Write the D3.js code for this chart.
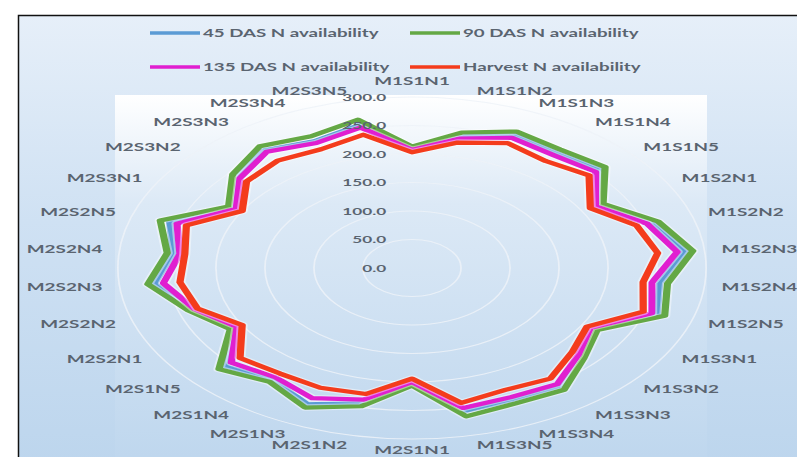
<!DOCTYPE html>
<html>
<head>
<meta charset="utf-8">
<script src="https://cdn.jsdelivr.net/npm/d3@7/dist/d3.min.js"></script>
<style>
  html, body { margin: 0; padding: 0; background: #ffffff; }
  svg { display: block; }
  text { font-family: Lato, "Open Sans", sans-serif; font-weight: 700; fill: #5a6470; }
</style>
</head>
<body>
<svg id="chart" width="797" height="457"></svg>
<script>
// Treatment combinations around the radar
const categories = [
  "M1S1N1","M1S1N2","M1S1N3","M1S1N4","M1S1N5",
  "M1S2N1","M1S2N2","M1S2N3","M1S2N4","M1S2N5",
  "M1S3N1","M1S3N2","M1S3N3","M1S3N4","M1S3N5",
  "M2S1N1","M2S1N2","M2S1N3","M2S1N4","M2S1N5",
  "M2S2N1","M2S2N2","M2S2N3","M2S2N4","M2S2N5",
  "M2S3N1","M2S3N2","M2S3N3","M2S3N4","M2S3N5"
];

// N availability (kg/ha) at each stage
const das45 = [209,236,256,250,258,219,258,280,254,263,213,232,256,253,257,203,242,262,242,257,209,236,264,245,260,212,241,256,244,257];
const das90 = [213,243,262,257,265,225,264,288,262,271,218,236,264,260,266,206,248,268,247,265,214,240,271,251,270,216,246,264,253,266];
const das135 = [207,232,250,245,252,216,252,272,246,257,210,228,252,248,251,200,236,250,237,248,206,233,255,238,252,207,236,252,240,252];
const harvest = [203,225,240,232,243,210,241,252,237,248,206,220,240,234,242,194,226,230,229,236,200,230,238,233,242,200,227,233,228,239];

const radialTicks = [0, 50, 100, 150, 200, 250, 300];

const seriesNames = ["45 DAS  N availability", "90 DAS N availability", "135 DAS N availability", "Harvest N availability"];
const seriesColors = ["#5b9bd5", "#64a845", "#e01fd0", "#f43c1c"];
const seriesValues = [das45, das90, das135, harvest];

const W = 797, H = 457;
const cx = 412, cy = 268;
const stretch = 1.72;           // horizontal stretch of the whole figure
const R = 171;

const svg = d3.select("#chart");
const defs = svg.append("defs");

const areaGrad = defs.append("linearGradient").attr("id", "areaGrad")
  .attr("x1", 0).attr("y1", 0).attr("x2", 0).attr("y2", 1);
areaGrad.append("stop").attr("offset", "0%").attr("stop-color", "#e6eff9");
areaGrad.append("stop").attr("offset", "45%").attr("stop-color", "#cfe1f3");
areaGrad.append("stop").attr("offset", "100%").attr("stop-color", "#bcd5ed");

const plotGrad = defs.append("linearGradient").attr("id", "plotGrad")
  .attr("x1", 0).attr("y1", 0).attr("x2", 0).attr("y2", 1);
plotGrad.append("stop").attr("offset", "0%").attr("stop-color", "#ffffff");
plotGrad.append("stop").attr("offset", "30%").attr("stop-color", "#dce9f6");
plotGrad.append("stop").attr("offset", "100%").attr("stop-color", "#bfd7ee");

// outer chart area with border
svg.append("rect")
  .attr("x", 18.5).attr("y", 15.5).attr("width", W).attr("height", H)
  .attr("fill", "url(#areaGrad)")
  .attr("stroke", "#111").attr("stroke-width", 1.5);

// plot area
svg.append("rect")
  .attr("x", 115).attr("y", 95).attr("width", 592).attr("height", H - 95)
  .attr("fill", "url(#plotGrad)");

const r = d3.scaleLinear().domain([0, 300]).range([0, R]);
const angle = i => i * 2 * Math.PI / categories.length;

const g = svg.append("g").attr("transform", `translate(${cx},${cy}) scale(${stretch},1)`);

// circular gridlines
g.selectAll("circle.grid")
  .data(radialTicks.filter(v => v > 0))
  .join("circle")
  .attr("class", "grid")
  .attr("r", d => r(d))
  .attr("fill", "none")
  .attr("stroke", "#edf2f8")
  .attr("stroke-opacity", 0.85)
  .attr("stroke-width", 1);

// series lines
const line = d3.lineRadial()
  .angle((d, i) => angle(i))
  .radius(d => r(d))
  .curve(d3.curveLinearClosed);

seriesValues.forEach((vals, k) => {
  g.append("path")
    .attr("d", line(vals))
    .attr("fill", "none")
    .attr("stroke", "#ffffff")
    .attr("stroke-opacity", 0.45)
    .attr("stroke-width", 6.5)
    .attr("stroke-linejoin", "round");
  g.append("path")
    .attr("d", line(vals))
    .attr("fill", "none")
    .attr("stroke", seriesColors[k])
    .attr("stroke-width", 4.2)
    .attr("stroke-linejoin", "round");
});

// radial axis tick labels
g.selectAll("text.tick")
  .data(radialTicks)
  .join("text")
  .attr("class", "tick")
  .attr("x", -15)
  .attr("y", d => -r(d))
  .attr("text-anchor", "end")
  .attr("dominant-baseline", "central")
  .style("font-size", "10px")
  .text(d => d3.format(".1f")(d));

// category labels
const labelR = R + 10;
g.selectAll("text.cat")
  .data(categories)
  .join("text")
  .attr("class", "cat")
  .each(function(d, i) {
    const a = angle(i);
    const s = Math.sin(a), c = Math.cos(a);
    let x = labelR * s, y = -labelR * c;
    let anchor = "middle";
    if (s > 0.05) anchor = "start";
    else if (s < -0.05) anchor = "end";
    else y += c > 0 ? -6 : 1;
    d3.select(this)
      .attr("x", x).attr("y", y)
      .attr("text-anchor", anchor)
      .attr("dominant-baseline", "central");
  })
  .style("font-size", "11px")
  .text(d => d);

// legend (two rows, two columns)
const legendPos = [
  { x: 150, y: 33 }, { x: 410, y: 33 },
  { x: 150, y: 67 }, { x: 410, y: 67 }
];
const legend = svg.append("g");
seriesNames.forEach((name, k) => {
  const p = legendPos[k];
  legend.append("line")
    .attr("x1", p.x).attr("x2", p.x + 50)
    .attr("y1", p.y).attr("y2", p.y)
    .attr("stroke", seriesColors[k])
    .attr("stroke-width", 3.5);
  legend.append("text")
    .attr("transform", `translate(${p.x + 53},${p.y}) scale(1.7,1)`)
    .attr("dominant-baseline", "central")
    .style("font-size", "11px")
    .text(name);
});
</script>
</body>
</html>
